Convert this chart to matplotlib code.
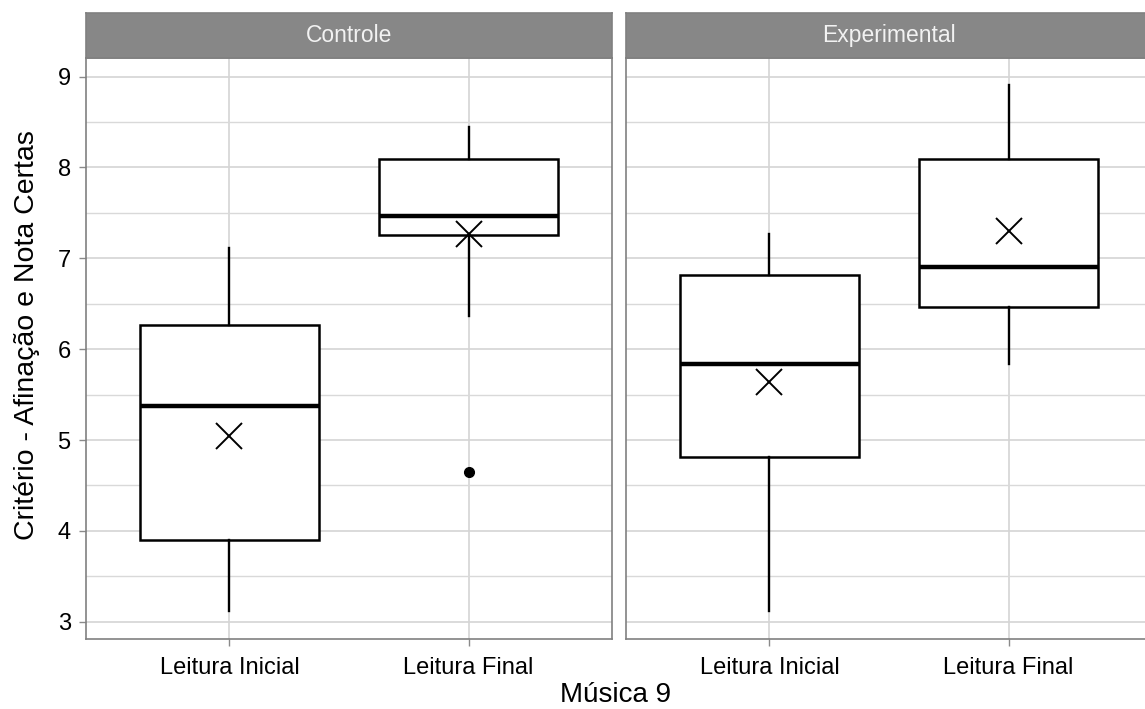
import matplotlib
matplotlib.use("Agg")
import matplotlib.pyplot as plt

plt.rcParams['font.family'] = ['Liberation Sans', 'DejaVu Sans']

panels = ["Controle", "Experimental"]
categories = ["Leitura Inicial", "Leitura Final"]

# per panel, per category
whislo = [[3.12, 6.37], [3.12, 5.84]]
q1 = [[3.90, 7.26], [4.81, 6.46]]
med = [[5.38, 7.47], [5.84, 6.91]]
q3 = [[6.27, 8.09], [6.82, 8.09]]
whishi = [[7.11, 8.45], [7.27, 8.91]]
fliers = [[[], [4.65]], [[], []]]
means = [[5.04, 7.27], [5.64, 7.30]]

y_ticks = [3, 4, 5, 6, 7, 8, 9]
x_title = "Música 9"
y_title = "Critério - Afinação e Nota Certas"

W, H = 1145, 709
fig = plt.figure(figsize=(W / 100, H / 100), dpi=100)

def fx(px):
    return px / W

def fy(py):
    return 1 - py / H

panel_left = [86, 626]
panel_w = 526
top_px, bot_px = 58, 639
strip_top = 13

for p, name in enumerate(panels):
    l = panel_left[p]
    ax = fig.add_axes([fx(l), fy(bot_px), panel_w / W, (bot_px - top_px) / H])
    stats = []
    for i in range(len(categories)):
        stats.append(dict(whislo=whislo[p][i], q1=q1[p][i], med=med[p][i],
                          q3=q3[p][i], whishi=whishi[p][i], fliers=fliers[p][i]))
    pos = list(range(1, len(categories) + 1))
    ax.bxp(stats, positions=pos, widths=0.75, showcaps=False, patch_artist=True,
           boxprops=dict(facecolor='white', edgecolor='black', linewidth=1.8),
           medianprops=dict(color='black', linewidth=3.2),
           whiskerprops=dict(color='black', linewidth=1.7),
           flierprops=dict(marker='o', markerfacecolor='black', markeredgecolor='black',
                           markersize=7),
           zorder=3)
    ax.plot(pos, means[p], linestyle='none', marker='x', color='black',
            markersize=19, markeredgewidth=1.4, zorder=4)
    ax.set_xlim(0.4, 2.6)
    ax.set_ylim(2.81, 9.205)
    ax.set_yticks(y_ticks)
    ax.set_yticks([3.5, 4.5, 5.5, 6.5, 7.5, 8.5], minor=True)
    ax.set_xticks(pos)
    ax.set_xticklabels(categories, fontsize=17.5, color='black')
    ax.grid(True, which='major', color='#d4d4d4', linewidth=1.2, zorder=0)
    ax.grid(True, which='minor', axis='y', color='#d9d9d9', linewidth=1.0, zorder=0)
    ax.set_axisbelow(True)
    ax.tick_params(axis='both', which='major', length=5, color='#8a8a8a', width=1.0,
                   labelsize=17, pad=6)
    ax.tick_params(axis='y', which='minor', length=0)
    ax.tick_params(axis='x', pad=8)
    if p == 0:
        ax.set_yticklabels([str(t) for t in y_ticks], color='black')
    else:
        ax.tick_params(axis='y', which='both', left=False, labelleft=False)
    for s in ax.spines.values():
        s.set_color('#808080')
        s.set_linewidth(1.2)
    # strip
    sax = fig.add_axes([fx(l), fy(top_px), panel_w / W, (top_px - strip_top) / H])
    sax.set_facecolor('#878787')
    sax.set_xticks([])
    sax.set_yticks([])
    for s in sax.spines.values():
        s.set_color('#808080')
        s.set_linewidth(1.2)
    sax.text(0.5, 0.5, name, transform=sax.transAxes, ha='center', va='center',
             fontsize=16.5, color='#f2f2f2')

fig.text(fx(616), fy(695), x_title, ha='center', va='center', fontsize=20)
fig.text(fx(27), fy(335), y_title, ha='center', va='center', rotation=90, fontsize=20.5)

fig.savefig("out.png", dpi=100, facecolor='white')
